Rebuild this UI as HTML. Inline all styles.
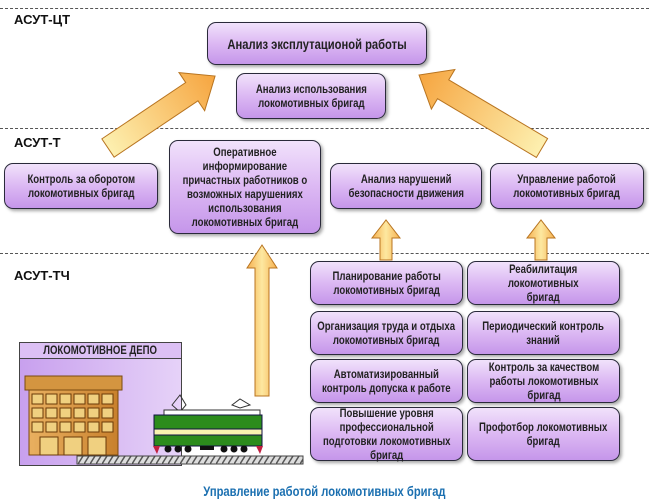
<!DOCTYPE html>
<html><head><meta charset="utf-8"><style>
*{margin:0;padding:0;box-sizing:border-box}
body{width:649px;height:502px;background:#fff;position:relative;overflow:hidden;font-family:"Liberation Sans",sans-serif;font-weight:bold;color:#222}
.b{position:absolute;border:1.5px solid #2a2a3a;border-radius:9px;background:linear-gradient(180deg,#f1e2fb 0%,#dcb8f3 50%,#c596ea 100%);box-shadow:2px 2px 3px rgba(0,0,0,.35);display:flex;align-items:center;justify-content:center;text-align:center;font-size:12px;line-height:14px}
.b span,.c{display:inline-block;transform:scaleX(.8);white-space:nowrap}
.dash{position:absolute;left:0;width:649px;border-top:1.5px dashed #555}
.lab{position:absolute;left:14px;font-size:13px;color:#111}
</style></head><body>
<div class="dash" style="top:8px"></div>
<div class="dash" style="top:128px"></div>
<div class="dash" style="top:253px"></div>
<div class="lab" style="top:12px">АСУТ-ЦТ</div>
<div class="lab" style="top:135px">АСУТ-Т</div>
<div class="lab" style="top:268px">АСУТ-ТЧ</div>

<svg style="position:absolute;left:0;top:0" width="649" height="502">
<defs>
<linearGradient id="g" x1="0" y1="0" x2="1" y2="0"><stop offset="0" stop-color="#fdf0b0"/><stop offset="1" stop-color="#f6a540"/></linearGradient>
<linearGradient id="gh" x1="0" y1="0" x2="1" y2="0"><stop offset="0" stop-color="#f6b050"/><stop offset=".5" stop-color="#fde8a0"/><stop offset="1" stop-color="#f6b050"/></linearGradient>
</defs>
<g transform="translate(108,148) rotate(-33.9)"><polygon points="0,-11 101,-11 101,-23 129,0 101,23 101,11 0,11" fill="url(#g)" stroke="#b87420" stroke-width="1"/></g>
<g transform="translate(542,148) rotate(-149.3)"><polygon points="0,-11 115,-11 115,-23 143,0 115,23 115,11 0,11" fill="url(#g)" stroke="#b87420" stroke-width="1"/></g>
<polygon points="255,396 255,268 247,268 262,245 277,268 269,268 269,396" fill="url(#gh)" stroke="#b87420"/>
<polygon points="380,260 380,238 372,238 386,220 400,238 392,238 392,260" fill="url(#gh)" stroke="#b87420"/>
<polygon points="535,260 535,238 527,238 541,220 555,238 547,238 547,260" fill="url(#gh)" stroke="#b87420"/>
</svg>

<div class="b" style="left:207px;top:22px;width:220px;height:43px;font-size:14px"><span>Анализ эксплутационой работы</span></div>
<div class="b" style="left:236px;top:73px;width:150px;height:46px"><span>Анализ использования<br>локомотивных бригад</span></div>
<div class="b" style="left:4px;top:163px;width:154px;height:46px"><span>Контроль за оборотом<br>локомотивных бригад</span></div>
<div class="b" style="left:169px;top:140px;width:152px;height:94px"><span>Оперативное<br>информирование<br>причастных работников о<br>возможных нарушениях<br>использования<br>локомотивных бригад</span></div>
<div class="b" style="left:330px;top:163px;width:152px;height:46px"><span>Анализ нарушений<br>безопасности движения</span></div>
<div class="b" style="left:490px;top:163px;width:154px;height:46px"><span>Управление работой<br>локомотивных бригад</span></div>

<div class="b" style="left:310px;top:261px;width:153px;height:44px"><span>Планирование работы<br>локомотивных бригад</span></div>
<div class="b" style="left:467px;top:261px;width:153px;height:44px"><span>Реабилитация<br>локомотивных<br>бригад</span></div>
<div class="b" style="left:310px;top:311px;width:153px;height:44px"><span>Организация труда и отдыха<br>локомотивных бригад</span></div>
<div class="b" style="left:467px;top:311px;width:153px;height:44px"><span>Периодический контроль<br>знаний</span></div>
<div class="b" style="left:310px;top:359px;width:153px;height:44px"><span>Автоматизированный<br>контроль допуска к работе</span></div>
<div class="b" style="left:467px;top:359px;width:153px;height:44px"><span>Контроль за качеством<br>работы локомотивных<br>бригад</span></div>
<div class="b" style="left:310px;top:407px;width:153px;height:54px"><span>Повышение уровня<br>профессиональной<br>подготовки локомотивных<br>бригад</span></div>
<div class="b" style="left:467px;top:407px;width:153px;height:54px"><span>Профотбор локомотивных<br>бригад</span></div>

<div style="position:absolute;left:19px;top:342px;width:163px;height:124px;border:1.5px solid #444;background:linear-gradient(90deg,#c8a0ee,#e6d2f8)"></div>
<div style="position:absolute;left:19px;top:342px;width:163px;height:17px;border:1.5px solid #444;background:#dcc0f4;font-size:12px;text-align:center;line-height:14px"><span class="c">ЛОКОМОТИВНОЕ ДЕПО</span></div>
<svg style="position:absolute;left:0;top:0" width="649" height="502">
<defs><pattern id="h" width="6" height="8" patternUnits="userSpaceOnUse"><rect width="6" height="8" fill="#ddd"/><line x1="0" y1="8" x2="5" y2="0" stroke="#555" stroke-width="1.5"/></pattern>
<linearGradient id="bd" x1="0" y1="0" x2="1" y2="0"><stop offset="0" stop-color="#e9b060"/><stop offset="1" stop-color="#c8802c"/></linearGradient></defs>
<rect x="77" y="456" width="226" height="8" fill="url(#h)" stroke="#444"/>
<rect x="25" y="376" width="97" height="14" fill="#d49540" stroke="#7a4a10"/>
<rect x="29" y="390" width="89" height="65" fill="url(#bd)" stroke="#7a4a10"/>
<g fill="#f0d080" stroke="#6a3a08" stroke-width="1">
<rect x="32" y="394" width="11" height="10"/><rect x="46" y="394" width="11" height="10"/><rect x="60" y="394" width="11" height="10"/><rect x="74" y="394" width="11" height="10"/><rect x="88" y="394" width="11" height="10"/><rect x="102" y="394" width="11" height="10"/>
<rect x="32" y="408" width="11" height="10"/><rect x="46" y="408" width="11" height="10"/><rect x="60" y="408" width="11" height="10"/><rect x="74" y="408" width="11" height="10"/><rect x="88" y="408" width="11" height="10"/><rect x="102" y="408" width="11" height="10"/>
<rect x="32" y="422" width="11" height="10"/><rect x="46" y="422" width="11" height="10"/><rect x="60" y="422" width="11" height="10"/><rect x="74" y="422" width="11" height="10"/><rect x="88" y="422" width="11" height="10"/><rect x="102" y="422" width="11" height="10"/>
<rect x="40" y="437" width="18" height="18"/><rect x="64" y="437" width="18" height="18"/><rect x="88" y="437" width="18" height="18"/>
</g>
<polygon points="172,405 180,395 186,405 180,412" fill="none" stroke="#333"/>
<polygon points="232,405 240,399 250,405 240,408" fill="#fff" stroke="#333"/>
<rect x="164" y="410" width="96" height="5" fill="#fff" stroke="#333"/>
<rect x="154" y="415" width="108" height="14" fill="#2c8c1c" stroke="#114"/>
<rect x="154" y="429" width="108" height="6" fill="#f8f4b0" stroke="#114"/>
<rect x="154" y="435" width="108" height="11" fill="#2c8c1c" stroke="#114"/>
<g fill="#111"><circle cx="168" cy="449" r="3.5"/><circle cx="178" cy="449" r="3.5"/><circle cx="188" cy="449" r="3.5"/><rect x="200" y="446" width="14" height="4"/><circle cx="224" cy="449" r="3.5"/><circle cx="234" cy="449" r="3.5"/><circle cx="244" cy="449" r="3.5"/></g>
<polygon points="153,446 160,446 157,454" fill="#c02040"/><polygon points="256,446 263,446 260,454" fill="#c02040"/>
</svg>
<div style="position:absolute;left:0;width:649px;top:483px;text-align:center;font-size:14px;color:#1a6fb0"><span class="c">Управление работой локомотивных бригад</span></div>
</body></html>
